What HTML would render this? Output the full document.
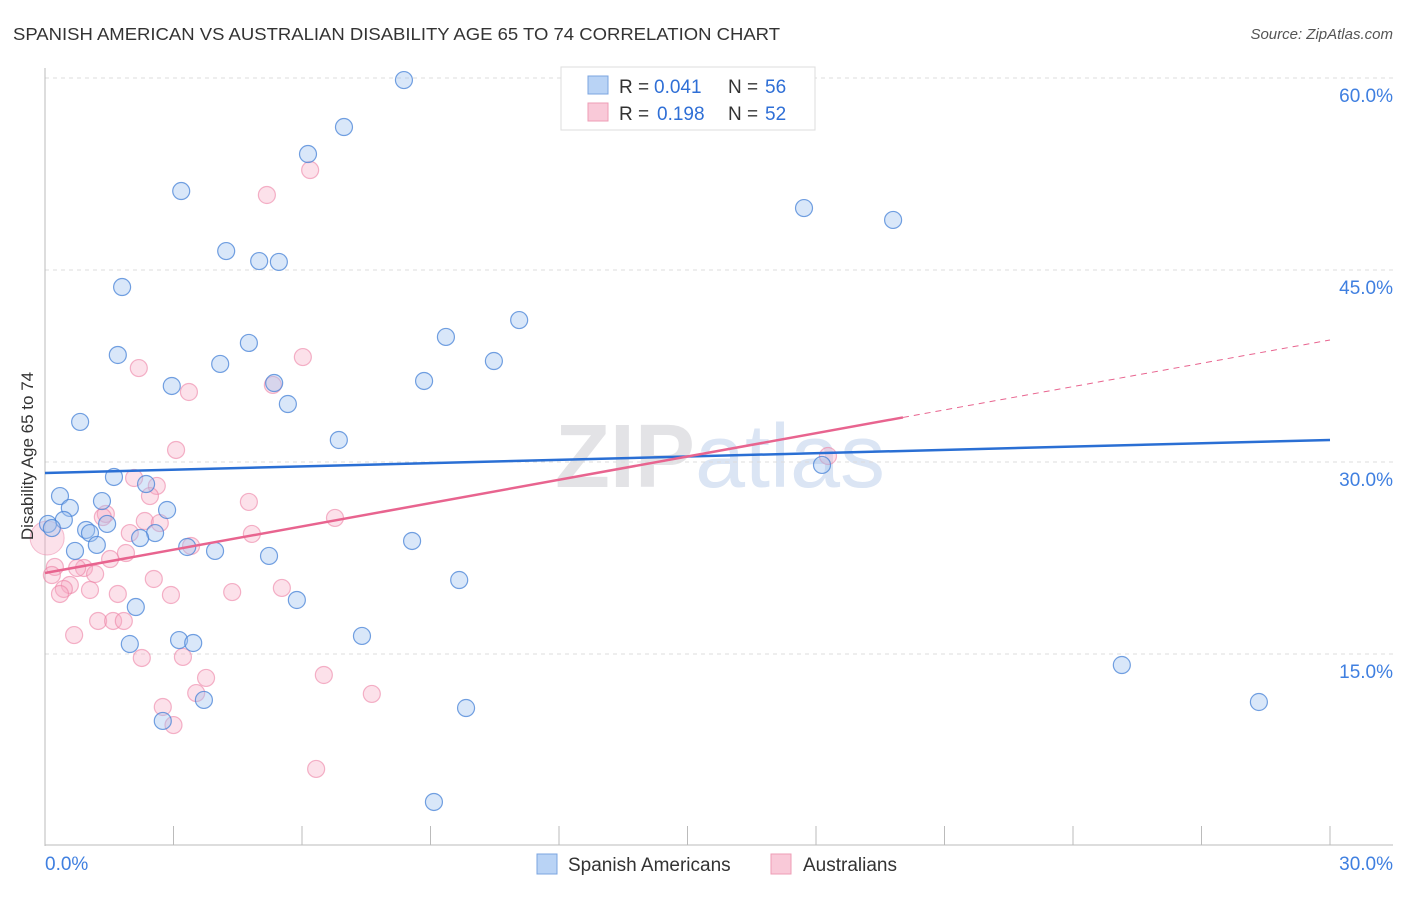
<!DOCTYPE html>
<html><head><meta charset="utf-8"><style>
body{margin:0;background:#fff;font-family:"Liberation Sans",sans-serif}
svg text{font-family:"Liberation Sans",sans-serif}
</style></head><body>
<svg id="c" width="1406" height="892">
<text x="13" y="40" font-size="17.5" fill="#333" textLength="767" lengthAdjust="spacingAndGlyphs">SPANISH AMERICAN VS AUSTRALIAN DISABILITY AGE 65 TO 74 CORRELATION CHART</text>
<text x="1393" y="39" font-size="15" fill="#555" font-style="italic" text-anchor="end">Source: ZipAtlas.com</text>
<text x="720" y="487" font-size="90" fill="#e8e8ec" text-anchor="middle" font-family="Liberation Serif"><tspan fill="#e3e3e6" font-weight="bold">ZIP</tspan><tspan fill="#dbe5f4" font-family="Liberation Sans">atlas</tspan></text>
<g id="grid"></g><g id="axes"></g>
<g id="pinkPts"></g><g id="bluePts"></g><g id="lines"></g>
<text transform="translate(33,456) rotate(-90)" font-size="17" fill="#333" text-anchor="middle">Disability Age 65 to 74</text>
<g>
<rect x="561" y="67" width="254" height="63" fill="#fff" stroke="#ddd"/>
<rect x="588" y="76" width="20" height="18" fill="#b9d3f5" stroke="#7ba5e0"/>
<rect x="588" y="103" width="20" height="18" fill="#f9c9d8" stroke="#ee9db6"/>
<text x="619" y="93" font-size="19" fill="#333">R =</text>
<text x="654" y="93" font-size="19" fill="#2f6fd6">0.041</text>
<text x="728" y="93" font-size="19" fill="#333">N =</text>
<text x="765" y="93" font-size="19" fill="#2f6fd6">56</text>
<text x="619" y="120" font-size="19" fill="#333">R =</text>
<text x="657" y="120" font-size="19" fill="#2f6fd6">0.198</text>
<text x="728" y="120" font-size="19" fill="#333">N =</text>
<text x="765" y="120" font-size="19" fill="#2f6fd6">52</text>
</g>
<g>
<rect x="537" y="854" width="20" height="20" fill="#b9d3f5" stroke="#7ba5e0"/>
<text x="568" y="871" font-size="19" fill="#333">Spanish Americans</text>
<rect x="771" y="854" width="20" height="20" fill="#f9c9d8" stroke="#ee9db6"/>
<text x="803" y="871" font-size="19" fill="#333">Australians</text>
</g>
</svg>
<script>
const xTicks=[0,30];
const yTicks=[15,30,45,60];
const blueX=[8.38,6.98,6.14,3.18,17.72,19.80,4.23,5.00,5.46,1.80,11.07,9.36,4.76,1.70,10.48,4.09,8.85,2.96,5.35,5.67,0.82,6.86,18.14,1.61,2.36,0.35,1.33,0.58,2.85,0.44,1.45,0.07,0.16,0.96,1.05,2.57,2.22,1.21,3.32,8.57,3.97,0.70,5.23,9.67,5.88,2.12,7.40,3.13,3.46,1.98,25.14,3.71,9.83,28.34,2.75,9.08];
const blueY=[59.84,56.17,54.06,51.17,49.84,48.91,46.48,45.70,45.63,43.67,41.09,39.77,39.30,38.36,37.89,37.66,36.33,35.94,36.17,34.53,33.13,31.72,29.77,28.83,28.28,27.34,26.95,26.41,26.25,25.47,25.16,25.16,24.84,24.69,24.45,24.45,24.06,23.52,23.36,23.83,23.05,23.05,22.66,20.78,19.22,18.67,16.41,16.09,15.86,15.78,14.14,11.41,10.78,11.25,9.77,3.44];
const pinkX=[6.19,5.18,6.02,2.19,5.32,3.36,3.06,18.28,2.08,2.61,2.45,4.76,1.42,1.35,6.77,2.33,2.68,1.98,4.83,3.41,1.89,1.52,0.23,0.91,0.75,0.16,1.17,2.54,0.58,0.44,1.05,0.35,5.53,4.37,1.70,2.94,1.24,1.59,1.84,0.68,2.26,3.22,6.51,3.76,3.53,7.63,2.75,3.00,6.33];
const pinkY=[52.81,50.86,38.20,37.34,36.02,35.47,30.94,30.47,28.75,28.13,27.34,26.88,25.94,25.70,25.63,25.39,25.23,24.45,24.38,23.44,22.89,22.42,21.80,21.72,21.72,21.17,21.25,20.86,20.39,20.08,20.00,19.69,20.16,19.84,19.69,19.61,17.58,17.58,17.58,16.48,14.69,14.77,13.36,13.13,11.95,11.88,10.86,9.45,6.02];
const blueTrend=[29.14,31.72];
const pinkTrend=[21.33,39.53];
const pinkSolidEnd=20.03;
const NS="http://www.w3.org/2000/svg";
const X=v=>45+v/30*1285, Y=v=>846-v/15*192;
function mk(t,a,p){const e=document.createElementNS(NS,t);for(const k in a)e.setAttribute(k,a[k]);p.appendChild(e);return e;}
const grid=document.getElementById('grid'),axes=document.getElementById('axes');
yTicks.forEach(t=>{const l=mk('line',{x1:45,x2:1393,y1:Y(t),y2:Y(t),stroke:'#dcdcdc','stroke-dasharray':'4 4'},grid);


const tx=mk('text',{x:1393,y:Y(t)+24,'font-size':19,fill:'#3f7fe0','text-anchor':'end'},axes);tx.textContent=t.toFixed(1)+'%';

});
mk('line',{x1:45,x2:45,y1:68,y2:846,stroke:'#bbb'},axes);
mk('line',{x1:45,x2:1393,y1:845,y2:845,stroke:'#bbb'},axes);
for(let i=0;i<=10;i++){mk('line',{x1:X(i*3),x2:X(i*3),y1:826,y2:845,stroke:'#bbb'},axes);}
xTicks.forEach((t,i)=>{const tx=mk('text',{x:i?1393:45,y:870,'font-size':19,fill:'#3f7fe0','text-anchor':i?'end':'start'},axes);tx.textContent=t.toFixed(1)+'%';

});
const bp=document.getElementById('bluePts'),pp=document.getElementById('pinkPts');
pinkX.forEach((x,i)=>{const c=mk('circle',{cx:X(x),cy:Y(pinkY[i]),r:8.5,fill:'rgba(246,170,195,0.35)',stroke:'rgba(236,130,165,0.6)','stroke-width':1.2},pp);

});
const big=mk('circle',{cx:X(0.05),cy:Y(24.06),r:17,fill:'rgba(246,170,195,0.35)',stroke:'rgba(236,130,165,0.5)'},pp);


blueX.forEach((x,i)=>{const c=mk('circle',{cx:X(x),cy:Y(blueY[i]),r:8.5,fill:'rgba(160,195,240,0.4)',stroke:'rgba(70,130,215,0.75)','stroke-width':1.2},bp);

});
const ln=document.getElementById('lines');
const b=mk('line',{x1:X(0),y1:Y(blueTrend[0]),x2:X(30),y2:Y(blueTrend[1]),stroke:'#2a6fd4','stroke-width':2.5},ln);


const pv=x=>pinkTrend[0]+(pinkTrend[1]-pinkTrend[0])*x/30;
const p=mk('line',{x1:X(0),y1:Y(pv(0)),x2:X(pinkSolidEnd),y2:Y(pv(pinkSolidEnd)),stroke:'#e8648f','stroke-width':2.5},ln);


const pd=mk('line',{x1:X(pinkSolidEnd),y1:Y(pv(pinkSolidEnd)),x2:X(30),y2:Y(pv(30)),stroke:'#e8648f','stroke-width':1,'stroke-dasharray':'6 5'},ln);


</script>
</body></html>
